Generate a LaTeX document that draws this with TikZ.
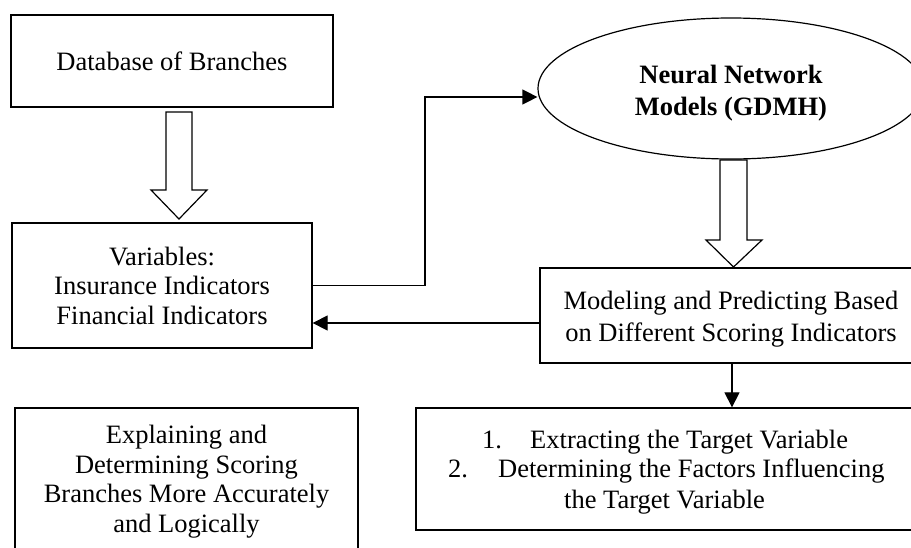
\documentclass[tikz,border=0pt]{standalone}
\usepackage{fontspec}
\setmainfont{Liberation Serif}
\usetikzlibrary{arrows.meta,shapes.geometric,calc}
\tikzset{
  boxnode/.style={draw,line width=1.3pt,inner sep=0pt,align=center,
    font=\fontsize{26.5}{29.5}\selectfont},
  ovalnode/.style={ellipse,draw,line width=1.2pt,inner sep=0pt},
  txt/.style={inner sep=0pt,font=\fontsize{26.5}{29.5}\selectfont},
  arr/.style={line width=1.2pt,-{Triangle[length=15pt,width=15pt]}},
  blockarrow/.style={draw,line width=1.2pt,fill=white,line join=miter}
}
\begin{document}
\begin{tikzpicture}[x=1pt,y=-1pt]
\clip (0,0) rectangle (911,547);
\fill[white] (0,0) rectangle (911,547);

\node[boxnode,minimum width=322pt,minimum height=92pt] (db) at (172,61) {Database of Branches};
\node[boxnode,minimum width=300pt,minimum height=125pt] (vars) at (162,285.5)
  {Variables:\\Insurance Indicators\\Financial Indicators};
\node[ovalnode,minimum width=386pt,minimum height=141pt] (nn) at (731,88.5) {};
\node[txt,align=center,font=\fontsize{26.5}{32}\selectfont\bfseries] (nntext) at (731,93)
  {Neural Network\\Models (GDMH)};
\node[boxnode,minimum width=384pt,minimum height=95pt] (model) at (732,315.5) {};
\node[txt,align=center,font=\fontsize{26.5}{32}\selectfont] (modeltext) at (731,319)
  {Modeling and Predicting Based\\on Different Scoring Indicators};
\node[boxnode,minimum width=502pt,minimum height=122pt] (target) at (667,469) {};
\node[boxnode,minimum width=343pt,minimum height=152pt] (explain) at (186.5,484) {};
\node[txt,align=center] (explaintext) at (186.5,481.5)
  {Explaining and\\Determining Scoring\\Branches More Accurately\\and Logically};

% list text in target box
\node[txt,anchor=base west] (n1) at (482,448) {1.};
\node[txt,anchor=base west] (t1) at (530,448) {Extracting the Target Variable};
\node[txt,anchor=base west] (n2) at (448,477.5) {2.};
\node[txt,anchor=base west] (t2) at (498,477.5) {Determining the Factors Influencing};
\node[txt,anchor=base west] (t3) at (564,508) {the Target Variable};

% block arrows
\draw[blockarrow] (166,112) -- (192,112) -- (192,190) -- (207,190) -- (179,219)
  -- (151,190) -- (166,190) -- cycle;
\draw[blockarrow] (720,160) -- (747,160) -- (747,240) -- (762,240) -- (733.5,267)
  -- (706,240) -- (720,240) -- cycle;

% connectors
\coordinate (elb) at (425,97);
\coordinate (ret) at (450,323);
\draw[arr] (vars.east) -| (elb) -- (nn.west |- elb);
\draw[arr] (model.west |- ret) -- (vars.east |- ret);
\draw[arr] (model.south) -- (target.north -| model.south);
\end{tikzpicture}
\end{document}
